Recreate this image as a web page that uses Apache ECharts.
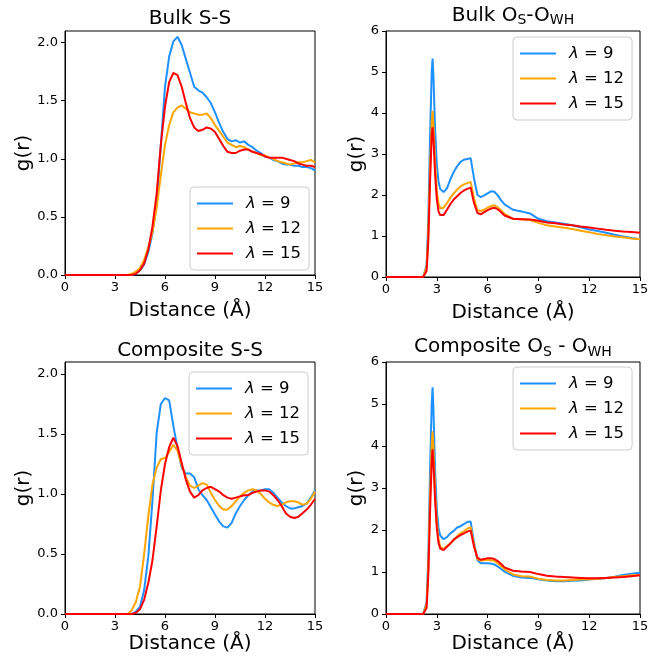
<!DOCTYPE html>
<html><head><meta charset="utf-8">
<script src="https://cdn.jsdelivr.net/npm/echarts@6/dist/echarts.min.js"></script>
<style>html,body{margin:0;padding:0;background:#fff}#c{width:661px;height:663px}</style>
</head><body><div id="c"></div>
<script>
// ---------- data ----------
const seriesNames = ['λ = 9', 'λ = 12', 'λ = 15'];
const colors = ['#1E90FF', '#FFA500', '#FF0000'];

// S-S distance grid (Å)
const xSS = [0, 3.5, 3.75, 4.0, 4.25, 4.5, 4.75, 5.0, 5.25, 5.5, 5.75, 6.0,
  6.25, 6.5, 6.75, 7.0, 7.25, 7.5, 7.75, 8.0, 8.25, 8.5, 8.75, 9.0,
  9.25, 9.5, 9.75, 10.0, 10.25, 10.5, 10.75, 11.0, 11.25, 11.5, 11.75, 12.0,
  12.25, 12.5, 12.75, 13.0, 13.25, 13.5, 13.75, 14.0, 14.25, 14.5, 14.75, 15.0];

const bulkSS_9 = [0, 0, 0, 0, 0.01, 0.04, 0.09, 0.20, 0.36, 0.62, 1.12, 1.62,
  1.88, 2.01, 2.05, 1.98, 1.86, 1.74, 1.62, 1.59, 1.57, 1.53, 1.48, 1.40,
  1.31, 1.23, 1.17, 1.15, 1.16, 1.14, 1.15, 1.12, 1.10, 1.07, 1.05, 1.02,
  1.01, 0.99, 0.98, 0.96, 0.95, 0.95, 0.94, 0.94, 0.93, 0.93, 0.92, 0.90];
const bulkSS_12 = [0, 0, 0, 0.01, 0.03, 0.06, 0.13, 0.24, 0.37, 0.58, 0.86, 1.12,
  1.29, 1.40, 1.44, 1.46, 1.43, 1.40, 1.39, 1.38, 1.38, 1.39, 1.35, 1.29,
  1.24, 1.19, 1.14, 1.12, 1.10, 1.11, 1.10, 1.08, 1.06, 1.05, 1.03, 1.03,
  1.01, 1.00, 0.98, 0.97, 0.96, 0.95, 0.96, 0.97, 0.97, 0.98, 0.99, 0.97];
const bulkSS_15 = [0, 0, 0, 0, 0.01, 0.04, 0.10, 0.22, 0.42, 0.70, 1.12, 1.45,
  1.66, 1.74, 1.72, 1.62, 1.48, 1.35, 1.27, 1.24, 1.25, 1.27, 1.26, 1.23,
  1.17, 1.11, 1.06, 1.05, 1.05, 1.07, 1.08, 1.08, 1.06, 1.05, 1.04, 1.02,
  1.01, 1.01, 1.01, 1.01, 1.00, 0.99, 0.98, 0.96, 0.95, 0.94, 0.94, 0.93];

const compSS_9 = [0, 0, 0, 0, 0.02, 0.06, 0.20, 0.48, 0.95, 1.51, 1.75, 1.80,
  1.78, 1.57, 1.38, 1.22, 1.17, 1.17, 1.14, 1.04, 0.99, 0.95, 0.89, 0.83,
  0.77, 0.73, 0.72, 0.76, 0.84, 0.90, 0.95, 0.99, 1.02, 1.03, 1.03, 1.04,
  1.04, 1.01, 0.97, 0.93, 0.90, 0.88, 0.88, 0.89, 0.90, 0.92, 0.97, 1.03];
const compSS_12 = [0, 0, 0, 0.03, 0.10, 0.23, 0.50, 0.82, 1.08, 1.22, 1.29, 1.30,
  1.35, 1.41, 1.36, 1.24, 1.14, 1.07, 1.05, 1.07, 1.09, 1.08, 1.01, 0.95,
  0.90, 0.87, 0.87, 0.90, 0.94, 0.98, 1.01, 1.03, 1.04, 1.03, 1.00, 0.96,
  0.93, 0.91, 0.90, 0.91, 0.93, 0.94, 0.94, 0.93, 0.91, 0.92, 0.96, 1.02];
const compSS_15 = [0, 0, 0, 0, 0.01, 0.04, 0.12, 0.26, 0.45, 0.73, 1.03, 1.25,
  1.39, 1.47, 1.40, 1.26, 1.12, 1.02, 0.97, 0.99, 1.03, 1.05, 1.06, 1.04,
  1.02, 0.99, 0.97, 0.96, 0.97, 0.98, 0.99, 0.99, 1.01, 1.02, 1.03, 1.03,
  1.02, 0.99, 0.95, 0.90, 0.84, 0.81, 0.80, 0.81, 0.84, 0.87, 0.91, 0.96];

// O-O distance grid (Å)
const xOO = [0, 2.2, 2.3, 2.4, 2.5, 2.6, 2.7, 2.75, 2.8, 2.9, 3.0, 3.1,
  3.2, 3.4, 3.6, 3.8, 4.0, 4.2, 4.4, 4.6, 4.8, 5.0, 5.2, 5.4,
  5.6, 5.8, 6.0, 6.2, 6.4, 6.6, 6.8, 7.0, 7.5, 8.0, 8.5, 9.0,
  9.5, 10, 10.5, 11, 11.5, 12, 12.5, 13, 13.5, 14, 14.5, 15];

const bulkOO_9 = [0, 0, 0.01, 0.3, 1.4, 3.4, 5.0, 5.33, 4.9, 3.6, 2.75, 2.33,
  2.15, 2.07, 2.16, 2.38, 2.56, 2.70, 2.81, 2.86, 2.88, 2.90, 2.40, 2.00,
  1.95, 1.99, 2.04, 2.09, 2.08, 1.99, 1.87, 1.77, 1.64, 1.60, 1.55, 1.42,
  1.36, 1.33, 1.30, 1.26, 1.21, 1.16, 1.12, 1.08, 1.03, 0.99, 0.95, 0.92];
const bulkOO_12 = [0, 0, 0.01, 0.25, 1.1, 2.6, 3.8, 4.05, 3.75, 2.8, 2.1, 1.8,
  1.67, 1.69, 1.80, 1.93, 2.04, 2.13, 2.21, 2.26, 2.29, 2.32, 1.92, 1.63,
  1.61, 1.64, 1.69, 1.73, 1.75, 1.70, 1.62, 1.54, 1.42, 1.41, 1.39, 1.32,
  1.26, 1.23, 1.20, 1.17, 1.13, 1.09, 1.05, 1.02, 0.99, 0.97, 0.94, 0.92];
const bulkOO_15 = [0, 0, 0, 0.15, 0.9, 2.3, 3.45, 3.65, 3.4, 2.5, 1.9, 1.6,
  1.51, 1.51, 1.64, 1.78, 1.89, 1.97, 2.05, 2.11, 2.15, 2.18, 1.80, 1.56,
  1.53, 1.58, 1.63, 1.67, 1.69, 1.65, 1.58, 1.50, 1.42, 1.41, 1.40, 1.37,
  1.33, 1.31, 1.28, 1.26, 1.23, 1.21, 1.18, 1.15, 1.13, 1.11, 1.10, 1.08];

const compOO_9 = [0, 0, 0.01, 0.3, 1.4, 3.4, 5.0, 5.4, 4.9, 3.4, 2.5, 2.05,
  1.87, 1.78, 1.83, 1.92, 1.98, 2.06, 2.09, 2.14, 2.19, 2.20, 1.70, 1.28,
  1.21, 1.21, 1.21, 1.20, 1.18, 1.13, 1.07, 1.01, 0.91, 0.87, 0.86, 0.83,
  0.80, 0.78, 0.78, 0.79, 0.80, 0.82, 0.84, 0.86, 0.89, 0.93, 0.96, 0.98];
const compOO_12 = [0, 0, 0.01, 0.25, 1.15, 2.8, 4.05, 4.35, 4.0, 2.9, 2.2, 1.78,
  1.60, 1.55, 1.62, 1.68, 1.76, 1.85, 1.92, 1.97, 2.03, 2.07, 1.65, 1.30,
  1.27, 1.28, 1.29, 1.28, 1.27, 1.21, 1.14, 1.07, 0.94, 0.90, 0.89, 0.84,
  0.81, 0.80, 0.80, 0.81, 0.82, 0.83, 0.84, 0.86, 0.88, 0.90, 0.92, 0.93];
const compOO_15 = [0, 0, 0, 0.15, 0.95, 2.4, 3.65, 3.92, 3.6, 2.7, 2.05, 1.7,
  1.56, 1.52, 1.60, 1.68, 1.77, 1.83, 1.88, 1.92, 1.96, 1.99, 1.60, 1.34,
  1.29, 1.31, 1.33, 1.33, 1.31, 1.26, 1.19, 1.11, 1.03, 1.01, 1.00, 0.95,
  0.91, 0.89, 0.88, 0.87, 0.86, 0.85, 0.85, 0.86, 0.87, 0.88, 0.90, 0.92];

// tick settings
const xTicks = {min: 0, max: 15, interval: 3};
const ssTicks = {min: 0, max: 2.1, interval: 0.5, decimals: 1};
const ooTicks = {min: 0, max: 6, interval: 1, decimals: 0};

// ---------- layout ----------
const FONT = 'DejaVu Sans';
const panels = [
  {title: 'Bulk S-S', tx: 190, ty: 6.5, grid: {left: 65, top: 31, width: 250, height: 244},
   x: xSS, ys: [bulkSS_9, bulkSS_12, bulkSS_15], yt: ssTicks, yGap: 28, xGap: 26, leg: {left: 190, top: 187}},
  {title: 'Bulk O{sub|S}-O{sub|WH}', tx: 513, ty: 3.5, grid: {left: 386, top: 31, width: 254, height: 246},
   x: xOO, ys: [bulkOO_9, bulkOO_12, bulkOO_15], yt: ooTicks, yGap: 17.5, xGap: 26, leg: {left: 513, top: 37}},
  {title: 'Composite S-S', tx: 190, ty: 339, grid: {left: 65, top: 362, width: 250, height: 252},
   x: xSS, ys: [compSS_9, compSS_12, compSS_15], yt: ssTicks, yGap: 28, xGap: 19, leg: {left: 189, top: 372}},
  {title: 'Composite O{sub|S} - O{sub|WH}', tx: 513, ty: 335, grid: {left: 386, top: 362, width: 254, height: 252},
   x: xOO, ys: [compOO_9, compOO_12, compOO_15], yt: ooTicks, yGap: 17.5, xGap: 19, leg: {left: 513, top: 367}}
];

const option = {animation: false, backgroundColor: '#fff',
  title: [], grid: [], xAxis: [], yAxis: [], series: [], legend: []};

panels.forEach((p, i) => {
  option.title.push({
    text: p.title, left: p.tx, top: p.ty, textAlign: 'center', padding: 0,
    textStyle: {fontFamily: FONT, fontSize: 20, fontWeight: 'normal', color: '#000', lineHeight: 24,
      rich: {sub: {fontFamily: FONT, fontSize: 14, lineHeight: 14, verticalAlign: 'bottom', color: '#000'}}}
  });
  option.grid.push(Object.assign({show: true, borderColor: '#000', borderWidth: 1, containLabel: false}, p.grid));
  option.xAxis.push({
    type: 'value', gridIndex: i, min: xTicks.min, max: xTicks.max, interval: xTicks.interval,
    name: 'Distance (Å)', nameLocation: 'middle', nameGap: p.xGap,
    nameTextStyle: {fontFamily: FONT, fontSize: 20, color: '#000'},
    axisLine: {show: true, onZero: false, lineStyle: {color: '#000', width: 1}},
    axisTick: {show: true, inside: false, length: 4, lineStyle: {color: '#000'}},
    axisLabel: {fontFamily: FONT, fontSize: 13, color: '#000', margin: 6},
    splitLine: {show: false}
  });
  option.yAxis.push({
    type: 'value', gridIndex: i, min: p.yt.min, max: p.yt.max, interval: p.yt.interval,
    name: 'g(r)', nameLocation: 'middle', nameGap: p.yGap,
    nameTextStyle: {fontFamily: FONT, fontSize: 20, color: '#000'},
    axisLine: {show: true, onZero: false, lineStyle: {color: '#000', width: 1}},
    axisTick: {show: true, inside: false, length: 4, lineStyle: {color: '#000'}},
    axisLabel: {fontFamily: FONT, fontSize: 13, color: '#000', margin: 7, showMaxLabel: p.yt.max % p.yt.interval === 0,
      formatter: v => v.toFixed(p.yt.decimals)},
    splitLine: {show: false}
  });
  p.ys.forEach((ys, k) => {
    option.series.push({
      type: 'line', name: seriesNames[k], xAxisIndex: i, yAxisIndex: i,
      showSymbol: false, symbol: 'none', color: colors[k],
      lineStyle: {width: 2, color: colors[k]},
      data: p.x.map((xv, j) => [xv, ys[j]]), z: 2 + k
    });
  });
  option.legend.push({
    orient: 'vertical', left: p.leg.left, top: p.leg.top,
    data: seriesNames, icon: 'rect', itemWidth: 36, itemHeight: 2, itemGap: 8,
    padding: [8, 8, 8, 7], borderColor: '#cccccc', borderWidth: 1, borderRadius: 4,
    backgroundColor: 'rgba(255,255,255,0.8)', selectedMode: false,
    formatter: name => '{i|λ}{t|' + name.slice(1) + '}',
    textStyle: {fontFamily: FONT, fontSize: 16.5, color: '#000',
      rich: {i: {fontFamily: FONT, fontStyle: 'italic', fontSize: 16.5, padding: [0, 0, 0, 8], color: '#000'},
             t: {fontFamily: FONT, fontSize: 16.5, color: '#000'}}}
  });
});

const chart = echarts.init(document.getElementById('c'), null, {renderer: 'canvas'});
chart.setOption(option);
</script>
</body></html>
